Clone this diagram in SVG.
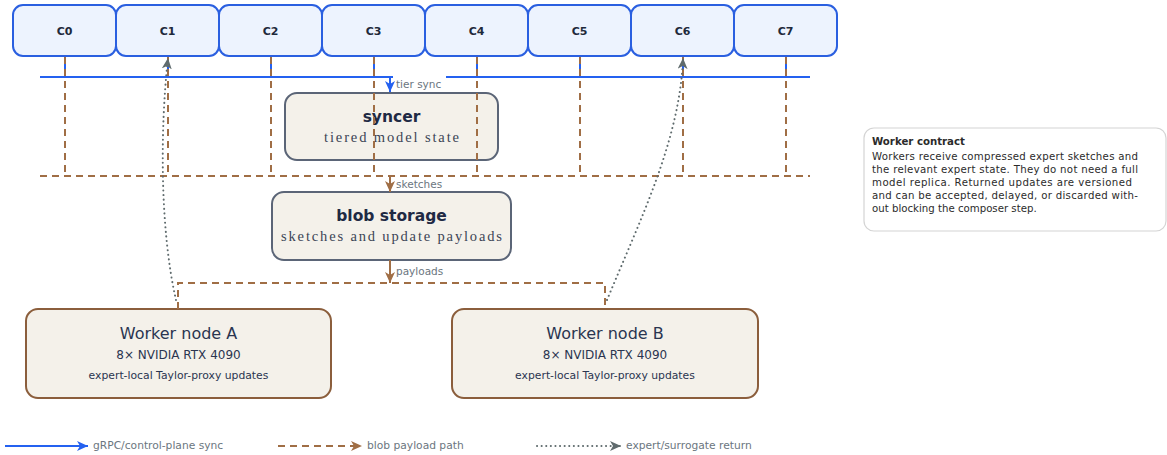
<svg xmlns="http://www.w3.org/2000/svg" width="1167" height="455" viewBox="0 0 1167 455">
<style>
.cbox{fill:#edf3fe;stroke:#2a5fe0;stroke-width:2}
.clab{font-family:"DejaVu Sans",sans-serif;font-weight:bold;font-size:11px;fill:#1e293b;text-anchor:middle}
.svc{fill:#f4f1ea;stroke:#5b6577;stroke-width:2}
.wrk{fill:#f4f1ea;stroke:#8b5e3c;stroke-width:2}
.ttl{font-family:"DejaVu Sans",sans-serif;font-weight:bold;font-size:15.5px;fill:#1f2a44;text-anchor:middle}
.sub{font-family:"Liberation Serif",serif;font-size:14.5px;fill:#3b4455;text-anchor:middle}
.wt{font-family:"DejaVu Sans",sans-serif;font-size:16px;fill:#2a3550;text-anchor:middle}
.ws{font-family:"DejaVu Sans",sans-serif;font-size:12px;fill:#2a3550;text-anchor:middle}
.wx{font-family:"DejaVu Sans",sans-serif;font-size:10.8px;fill:#2a3550;text-anchor:middle}
.lbl{font-family:"DejaVu Sans",sans-serif;font-size:10.5px;fill:#6b7680}
.leg{font-family:"DejaVu Sans",sans-serif;font-size:10.7px;fill:#6b7680}
.note{font-family:"DejaVu Sans",sans-serif;font-size:10.2px;fill:#2b2b2b}
.blue{fill:none;stroke:#2461f0;stroke-width:2}
.brown{fill:none;stroke:#a06e45;stroke-width:2;stroke-dasharray:7 5}
.dot{fill:none;stroke:#5f6b6d;stroke-width:2;stroke-dasharray:0.1 4.5;stroke-linecap:round}
</style>
<defs>
<marker id="ab" markerUnits="userSpaceOnUse" markerWidth="12" markerHeight="10" refX="11" refY="5" orient="auto"><path d="M0,0 L11,5 L0,10 L3,5 z" fill="#2461f0"/></marker>
<marker id="ar" markerUnits="userSpaceOnUse" markerWidth="12" markerHeight="10" refX="11" refY="5" orient="auto"><path d="M0,0 L11,5 L0,10 L3,5 z" fill="#a06e45"/></marker>
<marker id="ag" markerUnits="userSpaceOnUse" markerWidth="12" markerHeight="10" refX="11" refY="5" orient="auto"><path d="M0,0 L11,5 L0,10 L3,5 z" fill="#5f6b6d"/></marker>
</defs>

<g id="note">
<rect x="864" y="128" width="302" height="103" rx="10" fill="#fff" stroke="#d4d4d4" stroke-width="1.2"/>
<text class="note" x="872" y="145" font-weight="bold">Worker contract</text>
<text class="note" x="872" y="160" textLength="266" lengthAdjust="spacing">Workers receive compressed expert sketches and</text>
<text class="note" x="872" y="173" textLength="266" lengthAdjust="spacing">the relevant expert state.  They do not need a full</text>
<text class="note" x="872" y="186" textLength="260" lengthAdjust="spacing">model replica.  Returned updates are versioned</text>
<text class="note" x="872" y="199" textLength="266" lengthAdjust="spacing">and can be accepted, delayed, or discarded with-</text>
<text class="note" x="872" y="212">out blocking the composer step.</text>
</g>

<g id="syncer">
<rect class="svc" x="285" y="93" width="213" height="67" rx="12"/>
<text class="ttl" x="391.5" y="122">syncer</text>
<text class="sub" x="391.5" y="142" textLength="135" lengthAdjust="spacing">tiered model state</text>
</g>

<g id="blob">
<rect class="svc" x="272" y="192" width="239" height="68" rx="12"/>
<text class="ttl" x="391.5" y="221">blob storage</text>
<text class="sub" x="391.5" y="241" textLength="221" lengthAdjust="spacing">sketches and update payloads</text>
</g>

<g id="workerA">
<rect class="wrk" x="26" y="309" width="305" height="89" rx="12"/>
<text class="wt" x="178.5" y="339">Worker node A</text>
<text class="ws" x="178.5" y="359">8× NVIDIA RTX 4090</text>
<text class="wx" x="178.5" y="379">expert-local Taylor-proxy updates</text>
</g>

<g id="workerB">
<rect class="wrk" x="452" y="309" width="306" height="89" rx="12"/>
<text class="wt" x="605" y="339">Worker node B</text>
<text class="ws" x="605" y="359">8× NVIDIA RTX 4090</text>
<text class="wx" x="605" y="379">expert-local Taylor-proxy updates</text>
</g>

<g id="connectors">
<path class="blue" d="M65,77V56 M168,77V56 M271,77V56 M374,77V56 M477,77V56 M580,77V56 M683,77V56 M786,77V56"/>
<path class="blue" d="M40,77H810"/>
<path class="brown" d="M40,176H810"/>
<path class="brown" d="M65,57V176 M168,57V176 M271,57V176 M374,57V176 M477,57V176 M580,57V176 M683,57V176 M786,57V176"/>
<rect x="393" y="70" width="53" height="21" fill="#fff"/>
<text class="lbl" x="396" y="88">tier sync</text>
<path class="blue" d="M390,77V92" marker-end="url(#ab)"/>
<rect x="393" y="178" width="50" height="13" fill="#fff"/>
<text class="lbl" x="396" y="188">sketches</text>
<path class="brown" style="stroke-dasharray:none" d="M390,176V192" marker-end="url(#ar)"/>
<path class="brown" d="M178,309V283H605V309"/>
<path class="brown" style="stroke-dasharray:none" d="M390,260V283" marker-end="url(#ar)"/>
<text class="lbl" x="396" y="275">payloads</text>
<path class="dot" d="M176,300 C160,230 160,130 168,58" marker-end="url(#ag)"/>
<path class="dot" d="M607,300 C640,220 680,140 683,58" marker-end="url(#ag)"/>
</g>

<g id="c0"><rect class="cbox" x="13" y="5" width="103" height="51" rx="10"/><text class="clab" x="64.5" y="35">C0</text></g>
<g id="c1"><rect class="cbox" x="116" y="5" width="103" height="51" rx="10"/><text class="clab" x="167.5" y="35">C1</text></g>
<g id="c2"><rect class="cbox" x="219" y="5" width="103" height="51" rx="10"/><text class="clab" x="270.5" y="35">C2</text></g>
<g id="c3"><rect class="cbox" x="322" y="5" width="103" height="51" rx="10"/><text class="clab" x="373.5" y="35">C3</text></g>
<g id="c4"><rect class="cbox" x="425" y="5" width="103" height="51" rx="10"/><text class="clab" x="476.5" y="35">C4</text></g>
<g id="c5"><rect class="cbox" x="528" y="5" width="103" height="51" rx="10"/><text class="clab" x="579.5" y="35">C5</text></g>
<g id="c6"><rect class="cbox" x="631" y="5" width="103" height="51" rx="10"/><text class="clab" x="682.5" y="35">C6</text></g>
<g id="c7"><rect class="cbox" x="734" y="5" width="103" height="51" rx="10"/><text class="clab" x="785.5" y="35">C7</text></g>

<g id="legend">
<path class="blue" d="M5,446H88" marker-end="url(#ab)"/>
<text class="leg" x="93" y="449">gRPC/control-plane sync</text>
<path class="brown" d="M278,446H362" marker-end="url(#ar)"/>
<text class="leg" x="367" y="449">blob payload path</text>
<path class="dot" d="M537,446H621" marker-end="url(#ag)"/>
<text class="leg" x="626" y="449">expert/surrogate return</text>
</g>
</svg>
